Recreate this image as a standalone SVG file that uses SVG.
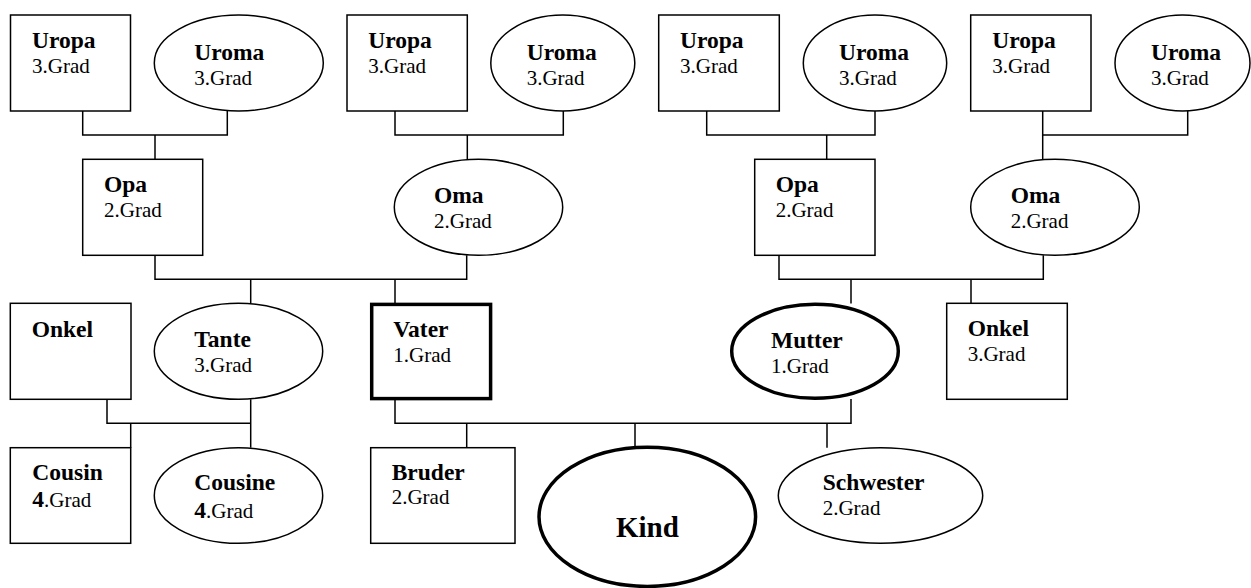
<svg xmlns="http://www.w3.org/2000/svg" width="1251" height="588" viewBox="0 0 1251 588">
<style>
.n{fill:#fff;stroke:#000;stroke-width:1.5}
.t{fill:#fff;stroke:#000;stroke-width:3.5}
.c{fill:none;stroke:#000;stroke-width:1.5}
text{font-family:"Liberation Serif","Times New Roman",serif;fill:#000}
.b{font-weight:bold;font-size:23.5px}
.r{font-size:21px}
.k{font-weight:bold;font-size:29px}
</style>
<rect width="1251" height="588" fill="#fff"/>
<g id="connectors">
<polyline class="c" points="82.7,111 82.7,135 227.3,135 227.3,111"/>
<line class="c" x1="155" y1="135" x2="155" y2="159.3"/>
<polyline class="c" points="395,111 395,135 563.3,135 563.3,111"/>
<line class="c" x1="467.3" y1="135" x2="467.3" y2="159.3"/>
<polyline class="c" points="706.7,111 706.7,135 875,135 875,111"/>
<line class="c" x1="826.7" y1="135" x2="826.7" y2="159.3"/>
<polyline class="c" points="1042.7,111 1042.7,135 1187.7,135 1187.7,111"/>
<line class="c" x1="1042.7" y1="135" x2="1042.7" y2="159.3"/>
<polyline class="c" points="155,255.3 155,279.3 466.7,279.3 466.7,255.3"/>
<line class="c" x1="250.7" y1="279.3" x2="250.7" y2="303.3"/>
<line class="c" x1="395" y1="279.3" x2="395" y2="303"/>
<polyline class="c" points="779,255.3 779,279.3 1043.3,279.3 1043.3,255.3"/>
<line class="c" x1="851" y1="279.3" x2="851" y2="303.5"/>
<line class="c" x1="971" y1="279.3" x2="971" y2="303.3"/>
<polyline class="c" points="107,399.3 107,423.3 250.7,423.3"/>
<line class="c" x1="250.7" y1="399.3" x2="250.7" y2="447.7"/>
<line class="c" x1="130.7" y1="423.3" x2="130.7" y2="447.7"/>
<polyline class="c" points="395,400 395,423.3 851,423.3 851,399"/>
<line class="c" x1="466.7" y1="423.3" x2="466.7" y2="447.7"/>
<line class="c" x1="635" y1="423.3" x2="635" y2="447"/>
<line class="c" x1="827" y1="423.3" x2="827" y2="447.7"/>
</g>
<g id="uropa1"><rect class="n" x="10.5" y="15" width="120" height="96"/><text class="b" x="32" y="47.7">Uropa</text><text class="r" x="32" y="73.3">3.Grad</text></g>
<g id="uroma1"><ellipse class="n" cx="238.8" cy="63" rx="84.5" ry="48"/><text class="b" x="194.3" y="60">Uroma</text><text class="r" x="194.3" y="85">3.Grad</text></g>
<g id="uropa2"><rect class="n" x="347" y="15" width="120.3" height="96"/><text class="b" x="368.3" y="47.7">Uropa</text><text class="r" x="368.3" y="73.3">3.Grad</text></g>
<g id="uroma2"><ellipse class="n" cx="562.8" cy="63" rx="72" ry="48"/><text class="b" x="526.7" y="60">Uroma</text><text class="r" x="526.7" y="85">3.Grad</text></g>
<g id="uropa3"><rect class="n" x="658.7" y="15" width="120.6" height="96"/><text class="b" x="680" y="47.7">Uropa</text><text class="r" x="680" y="73.3">3.Grad</text></g>
<g id="uroma3"><ellipse class="n" cx="875" cy="63" rx="71.7" ry="48"/><text class="b" x="839" y="60">Uroma</text><text class="r" x="839" y="85">3.Grad</text></g>
<g id="uropa4"><rect class="n" x="970.7" y="15" width="120.3" height="96"/><text class="b" x="992.3" y="47.7">Uropa</text><text class="r" x="992.3" y="73.3">3.Grad</text></g>
<g id="uroma4"><ellipse class="n" cx="1182.5" cy="63" rx="67.5" ry="48"/><text class="b" x="1151" y="60">Uroma</text><text class="r" x="1151" y="85">3.Grad</text></g>
<g id="opa1"><rect class="n" x="82.7" y="159.3" width="120" height="96"/><text class="b" x="104" y="191.7">Opa</text><text class="r" x="104" y="216.7">2.Grad</text></g>
<g id="oma1"><ellipse class="n" cx="478.5" cy="207.3" rx="84.2" ry="48"/><text class="b" x="434" y="203.3">Oma</text><text class="r" x="434" y="228.3">2.Grad</text></g>
<g id="opa2"><rect class="n" x="754.7" y="159.3" width="120.3" height="96"/><text class="b" x="775.7" y="191.7">Opa</text><text class="r" x="775.7" y="216.7">2.Grad</text></g>
<g id="oma2"><ellipse class="n" cx="1055" cy="207.3" rx="84.3" ry="48"/><text class="b" x="1010.7" y="203.3">Oma</text><text class="r" x="1010.7" y="228.3">2.Grad</text></g>
<g id="onkel1"><rect class="n" x="10.3" y="303.3" width="120.7" height="96"/><text class="b" x="31.7" y="336.7">Onkel</text></g>
<g id="tante"><ellipse class="n" cx="238.5" cy="351.3" rx="84.2" ry="48"/><text class="b" x="194.3" y="346.7">Tante</text><text class="r" x="194.3" y="371.7">3.Grad</text></g>
<g id="vater"><rect class="t" x="371.7" y="304.4" width="118.9" height="94.2"/><text class="b" x="393.3" y="336.7">Vater</text><text class="r" x="393.3" y="361.7">1.Grad</text></g>
<g id="mutter"><ellipse class="t" cx="815" cy="351.3" rx="83.3" ry="47"/><text class="b" x="771" y="348.3">Mutter</text><text class="r" x="771" y="372.7">1.Grad</text></g>
<g id="onkel2"><rect class="n" x="946.7" y="303.3" width="120.6" height="96"/><text class="b" x="967.7" y="335.7">Onkel</text><text class="r" x="967.7" y="360.7">3.Grad</text></g>
<g id="cousin"><rect class="n" x="10.3" y="447.7" width="120.4" height="95.6"/><text class="b" x="32.3" y="480">Cousin</text><text class="r" x="32.3" y="506.7"><tspan font-weight="bold" font-size="23.5px">4</tspan>.Grad</text></g>
<g id="cousine"><ellipse class="n" cx="238.5" cy="495.5" rx="84.2" ry="47.8"/><text class="b" x="194.3" y="490">Cousine</text><text class="r" x="194.3" y="517.7"><tspan font-weight="bold" font-size="23.5px">4</tspan>.Grad</text></g>
<g id="bruder"><rect class="n" x="370.7" y="447.7" width="144.3" height="95.6"/><text class="b" x="391.7" y="480">Bruder</text><text class="r" x="391.7" y="504.3">2.Grad</text></g>
<g id="kind"><ellipse class="t" cx="647.3" cy="516.8" rx="108.3" ry="69.6"/><text class="k" x="616" y="536.7">Kind</text></g>
<g id="schwester"><ellipse class="n" cx="880.5" cy="495.5" rx="102.2" ry="47.8"/><text class="b" x="822.7" y="490">Schwester</text><text class="r" x="822.7" y="515">2.Grad</text></g>
</svg>
